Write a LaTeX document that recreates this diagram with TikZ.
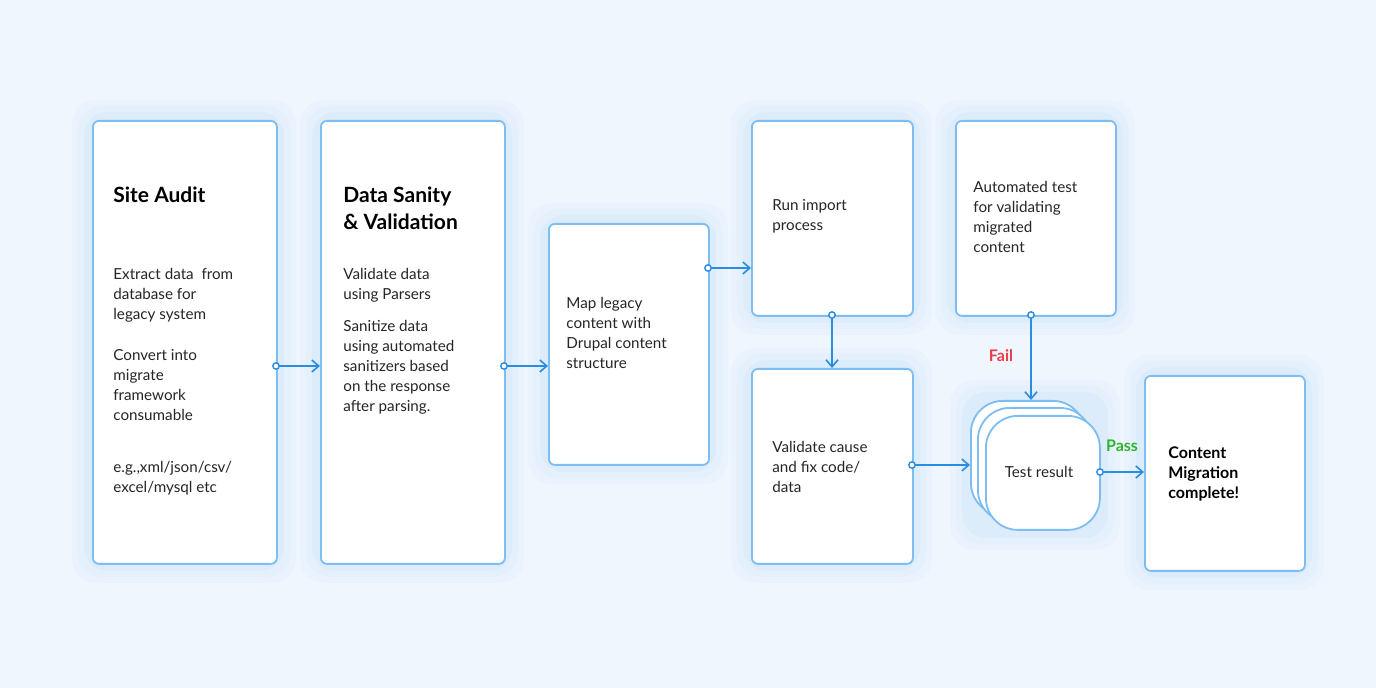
\documentclass[tikz,border=0pt]{standalone}
\usepackage{fontspec}
\setmainfont{Lato}
\usetikzlibrary{arrows.meta}
\begin{document}
\begin{tikzpicture}[x=0.5pt,y=-0.5pt,
  box/.style={draw=bbord,line width=0.9pt,fill=white,rounded corners=3pt},
  txt/.style={anchor=north west,align=left,font=\fontsize{7.6}{10}\selectfont,text=black!85,inner sep=0pt},
  ttl/.style={anchor=north west,align=left,font=\fontsize{10.5}{13.5}\selectfont\bfseries,inner sep=0pt},
  arr/.style={draw=barr,line width=0.8pt,-{Straight Barb[length=3.5pt,width=6pt]}},
  dot/.style={circle,draw=barr,fill=white,line width=0.7pt,inner sep=0pt,minimum size=3.2pt}]
\definecolor{bbord}{HTML}{7DBDF2}
\definecolor{barr}{HTML}{2A8DE0}
\definecolor{bg}{HTML}{EFF6FE}
\definecolor{glow}{HTML}{A9D3FA}
\definecolor{fr}{HTML}{E8404A}
\definecolor{pg}{HTML}{2DB52E}
\fill[bg] (0,0) rectangle (1376,688);
\useasboundingbox (0,0) rectangle (1376,688);
% glows
\foreach \a/\b/\c/\d in {92/120/276/563,320/120/504/563,548/223/708/464,751/120/912/315,955/120/1115/315,751/368/912/563,1144/375/1304/570,970/400/1100/530}{
  \foreach \w/\o in {20/0.06,14/0.08,8/0.12}{
    \fill[glow,opacity=\o,rounded corners=12pt] (\a-\w,\b-\w) rectangle (\c+\w,\d+\w);}}
\node[box,minimum width=92pt,minimum height=221.5pt,anchor=north west] (sa) at (92,120) {};
\node[box,minimum width=92pt,minimum height=221.5pt,anchor=north west] (ds) at (320,120) {};
\node[box,minimum width=80pt,minimum height=120.5pt,anchor=north west] (ml) at (548,223) {};
\node[box,minimum width=80.5pt,minimum height=97.5pt,anchor=north west] (ri) at (751,120) {};
\node[box,minimum width=80pt,minimum height=97.5pt,anchor=north west] (at) at (955,120) {};
\node[box,minimum width=80.5pt,minimum height=97.5pt,anchor=north west] (vc) at (751,368) {};
\node[box,minimum width=80pt,minimum height=97.5pt,anchor=north west] (cm) at (1144,375) {};
\node[box,rounded corners=16pt,minimum width=57pt,minimum height=57pt,anchor=north west] (t3) at (970,400) {};
\node[box,rounded corners=16pt,minimum width=57pt,minimum height=57pt,anchor=north west] (t2) at (977,407) {};
\node[box,rounded corners=16pt,minimum width=57pt,minimum height=57pt,anchor=north west] (tr) at (985,415) {};
% texts
\node[ttl] (sat) at (113,187) {Site Audit};
\node[txt] (sab) at (113,268) {Extract data \ from\\database for\\legacy system};
\node[txt] (sac) at (113,349) {Convert into\\migrate\\framework\\consumable};
\node[txt] (sad) at (113,461) {e.g.,xml/json/csv/\\excel/mysql etc};
\node[ttl] (dst) at (343,187) {Data Sanity\\\& Validation};
\node[txt] (dsb) at (343,268) {Validate data\\using Parsers};
\node[txt] (dsc) at (343,320) {Sanitize data\\using automated\\sanitizers based\\on the response\\after parsing.};
\node[txt] (mlt) at (566,297) {Map legacy\\content with\\Drupal content\\structure};
\node[txt] (rit) at (772,199) {Run import\\process};
\node[txt] (att) at (973,181) {Automated test\\for validating\\migrated\\content};
\node[txt] (vct) at (772,441) {Validate cause\\and fix code/\\data};
\node[txt,anchor=center] (trt) at (1039,472) {Test result};
\node[ttl,font=\fontsize{8}{10}\selectfont\bfseries] (cmt) at (1168,446) {Content\\Migration\\complete!};
\node[font=\fontsize{8}{10}\selectfont\bfseries,text=fr] (fail) at (1001,356) {Fail};
\node[font=\fontsize{8}{10}\selectfont\bfseries,text=pg] (pass) at (1122,446) {Pass};
% arrows
\coordinate (a1) at (276,366); \coordinate (a2) at (504,366); \coordinate (a3) at (708,268);
\coordinate (a4) at (832,315); \coordinate (a5) at (1031,315); \coordinate (a6) at (912,465); \coordinate (a7) at (1100,472);
\coordinate (e5) at (1031,400); \coordinate (e6) at (970,465);
\draw[arr] (a1) -- (ds.west|-a1);
\draw[arr] (a2) -- (ml.west|-a2);
\draw[arr] (a3) -- (ri.west|-a3);
\draw[arr] (a4) -- (vc.north-|a4);
\draw[arr] (a5) -- (e5);
\draw[arr] (a6) -- (e6);
\draw[arr] (a7) -- (cm.west|-a7);
\foreach \p in {a1,a2,a3,a4,a5,a6,a7}{\node[dot] at (\p) {};}
\end{tikzpicture}
\end{document}
